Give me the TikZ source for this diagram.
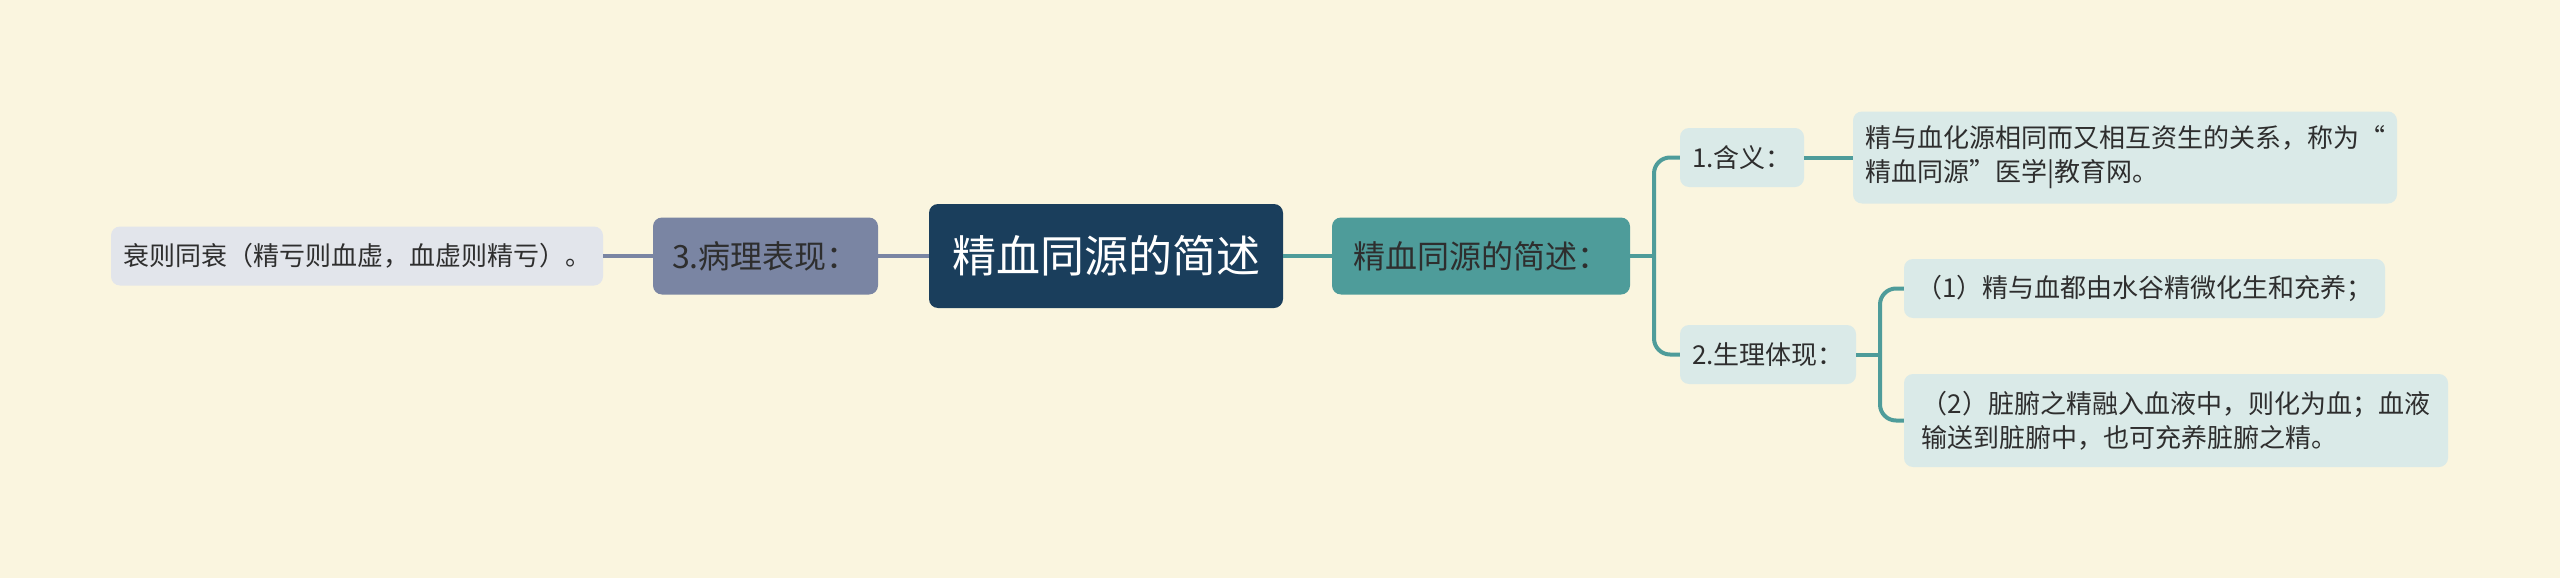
\documentclass[tikz,border=0pt]{standalone}
\usepackage{fontspec}
\newfontfamily\cjk{Noto Sans CJK SC}
\definecolor{bg}{HTML}{FAF5DF}
\definecolor{rootc}{HTML}{1A3E5C}
\definecolor{slate}{HTML}{7A85A3}
\definecolor{slatelight}{HTML}{E2E5EB}
\definecolor{tealc}{HTML}{4E9C9A}
\definecolor{teallight}{HTML}{DAEAE8}
\definecolor{txt}{HTML}{2E2E2E}
\tikzset{
  box/.style={rounded corners=9pt, inner sep=0pt, font=\cjk, align=left},
  rootbox/.style={box, fill=rootc, text=white, font=\cjk\fontsize{44}{52}\selectfont},
  midbox/.style={box, text=txt, font=\cjk\fontsize{32}{38}\selectfont},
  leafbox/.style={box, text=txt, font=\cjk\fontsize{26}{34}\selectfont},
  lconn/.style={draw=slate, line width=4pt},
  rconn/.style={draw=tealc, line width=4pt, rounded corners=16pt},
}
\begin{document}
\begin{tikzpicture}[x=1pt,y=-1pt]
\fill[bg] (0,0) rectangle (2560,578);
\useasboundingbox (0,0) rectangle (2560,578);

\node[rootbox, minimum width=354pt, minimum height=104pt] (C) at (1106,256) {精血同源的简述};
\node[midbox, fill=slate, minimum width=225pt, minimum height=77pt] (P) at (765.5,256) {3.病理表现：};
\node[leafbox, fill=slatelight, minimum width=492pt, minimum height=59pt] (L) at (357,256) {衰则同衰（精亏则血虚，血虚则精亏）。};
\node[midbox, fill=tealc, minimum width=298pt, minimum height=77pt] (T) at (1481,256) {精血同源的简述：};
\node[leafbox, fill=teallight, minimum width=124pt, minimum height=59pt] (A) at (1742,157.5) {1.含义：};
\node[leafbox, fill=teallight, minimum width=544pt, minimum height=92pt] (AT) at (2125,157.5) {精与血化源相同而又相互资生的关系，称为“\\精血同源”医学|教育网。};
\node[leafbox, fill=teallight, minimum width=176pt, minimum height=59pt] (B) at (1768,354.5) {2.生理体现：};
\node[leafbox, fill=teallight, minimum width=481pt, minimum height=59pt] (B1) at (2144.5,288.5) {（1）精与血都由水谷精微化生和充养；};
\node[leafbox, fill=teallight, minimum width=544pt, minimum height=93pt] (B2) at (2176,420.5) {（2）脏腑之精融入血液中，则化为血；血液\\输送到脏腑中，也可充养脏腑之精。};

\coordinate (j1) at (1654,256);
\coordinate (j2) at (1880,354.5);

\draw[lconn] (L.east) -- (P.west);
\draw[lconn] (P.east) -- (C.west);
\draw[rconn] (C.east) -- (T.west);
\draw[rconn] (T.east) -- (j1);
\draw[rconn] (A.west) -| (j1) |- (B.west);
\draw[rconn] (A.east) -- (AT.west);
\draw[rconn] (B.east) -- (j2);
\draw[rconn] (B1.west) -| (j2) |- (B2.west);
\end{tikzpicture}
\end{document}
